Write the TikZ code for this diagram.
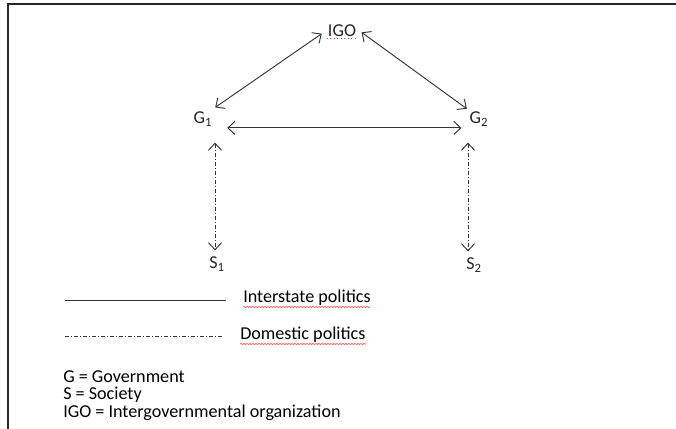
\documentclass[tikz,border=0pt]{standalone}
\usepackage{fontspec}
\setmainfont{Carlito}
\usetikzlibrary{arrows.meta,decorations.pathmorphing}
\tikzstyle{actor} = [inner sep=3pt, text=black!85]
\tikzstyle{inter} = [draw=black!80, line width=0.7pt, {Straight Barb[length=5.25pt,width=9.75pt]}-{Straight Barb[length=5.25pt,width=9.75pt]}]
\tikzstyle{domestic} = [inter, dash pattern=on 3pt off 1.5pt on 0.75pt off 1.5pt]
\tikzstyle{legendline} = [draw=black!80, line width=0.7pt]
\tikzstyle{spell} = [draw=red!70, line width=0.45pt, decorate, decoration={snake, amplitude=0.45pt, segment length=2.25pt}]

\begin{document}
\begin{tikzpicture}[x=0.75pt, y=-0.75pt, font=\fontsize{13.6}{16}\selectfont]

\useasboundingbox (0,0) rectangle (676,429);
\draw[black!85, line width=1.2pt] (676,4) -- (8,4) -- (8,429);

\node[actor] (igo) at (342,31) {IGO};
\node[actor] (g1) at (203,119) {G\textsubscript{1}};
\node[actor] (g2) at (479,119) {G\textsubscript{2}};
\node[actor] (s1) at (217,264) {S\textsubscript{1}};
\node[actor] (s2) at (474,265) {S\textsubscript{2}};

\draw[inter] ([xshift=-1.5pt, yshift=-2pt]igo.west) -- ([xshift=-1pt]g1.north east);
\draw[inter] ([xshift=1pt, yshift=-1pt]igo.east) -- ([xshift=1pt, yshift=-1pt]g2.north west);
\draw[inter] ([xshift=8pt, yshift=2pt]g1.south east) -- ([xshift=-3pt, yshift=2pt]g2.south west);
\draw[domestic] ([xshift=9pt, yshift=-9pt]g1.south) -- ([xshift=-1.5pt, yshift=1.5pt]s1.north);
\draw[domestic] ([xshift=-8.25pt, yshift=-9pt]g2.south) -- ([xshift=-4.5pt, yshift=1.5pt]s2.north);

% legend
\coordinate (solidA) at (65,300);
\coordinate (solidB) at (226,300);
\coordinate (dashA) at (65,336);
\coordinate (dashB) at (222,336);
\draw[legendline] (solidA) -- (solidB);
\draw[legendline, dash pattern=on 3pt off 1.5pt on 0.75pt off 1.5pt] (dashA) -- (dashB);
\node[anchor=west, inner sep=0pt] (interText) at (243,298) {Interstate politics};
\node[anchor=west, inner sep=0pt] (domText) at (240,335) {Domestic politics};

\node[anchor=west, inner sep=0pt] (keyG) at (63,377) {G = Government};
\node[anchor=west, inner sep=0pt] (keyS) at (63,395) {S = Society};
\node[anchor=west, inner sep=0pt] (keyIGO) at (63,413) {IGO = Intergovernmental organization};

% spell-check marks
\draw[red!80, line width=0.6pt, dotted] (327,38) -- (357,38);
\draw[spell] (243,307) -- (370,307);
\draw[spell] (240,344) -- (366,344);

\end{tikzpicture}
\end{document}
